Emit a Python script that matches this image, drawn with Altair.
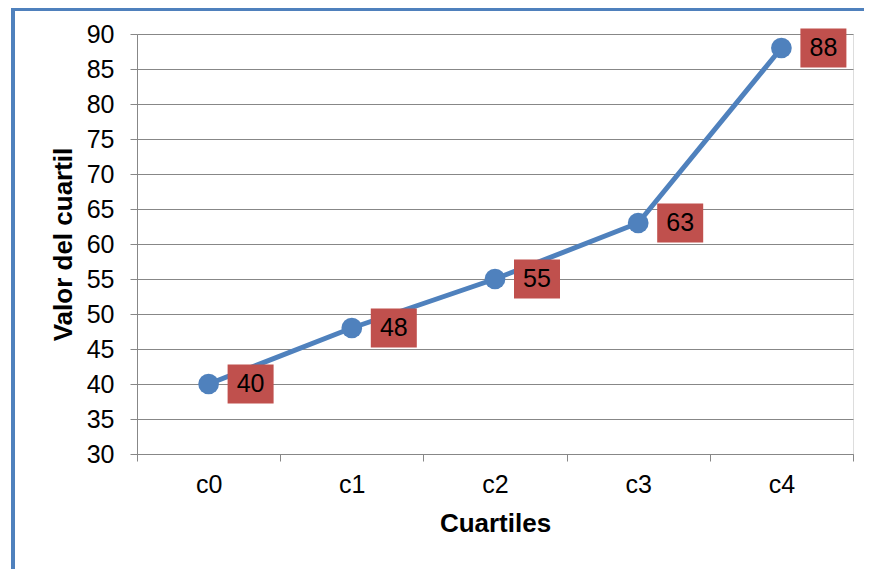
import altair as alt
import pandas as pd

categories = ["c0", "c1", "c2", "c3", "c4"]
values = [40, 48, 55, 63, 88]

df = pd.DataFrame({"cat": categories, "val": values})

FONT = "Liberation Sans"
BLUE = "#4f81bd"
RED = "#c0504d"
GRID = "#878787"

x_enc = alt.X("cat:N", sort=categories,
              scale=alt.Scale(type="band", paddingInner=0, paddingOuter=0),
              axis=alt.Axis(title="Cuartiles", labelAngle=0, tickBand="extent",
                            grid=False, domainColor=GRID, tickColor=GRID,
                            tickSize=7, labelFontSize=25, labelFont=FONT,
                            labelColor="black", labelPadding=11,
                            titleFont=FONT, titleFontSize=26, titleFontWeight="bold",
                            titleColor="black", titlePadding=13))
y_enc = alt.Y("val:Q", scale=alt.Scale(domain=[30, 90], nice=False, zero=False),
              axis=alt.Axis(title="Valor del cuartil", values=list(range(30, 91, 5)),
                            grid=True, gridColor=GRID, domainColor=GRID, tickColor=GRID,
                            tickSize=7, labelFontSize=25, labelFont=FONT,
                            labelColor="black", labelPadding=16,
                            titleFont=FONT, titleFontSize=26, titleFontWeight="bold",
                            titleColor="black", titlePadding=10))

base = alt.Chart(df).encode(x=x_enc, y=y_enc)

line = base.mark_line(color=BLUE, strokeWidth=5)
pts = base.mark_point(filled=True, color=BLUE, size=430, opacity=1, shape="circle")
boxes = base.mark_point(filled=True, color=RED, opacity=1, size=2116, xOffset=42,
                        shape="M-1,-0.848L1,-0.848L1,0.848L-1,0.848Z", strokeWidth=0)
labels = base.mark_text(xOffset=42, fontSize=25, font=FONT, color="black",
                        align="center", baseline="middle").encode(text="val:Q")

border_left = alt.Chart(df).mark_rule(color=BLUE, strokeWidth=3.5).encode(
    x=alt.value(-124), y=alt.value(-25), y2=alt.value(560))
border_top = alt.Chart(df).mark_rule(color=BLUE, strokeWidth=3.5).encode(
    x=alt.value(-125.75), x2=alt.value(760), y=alt.value(-25))

chart = alt.layer(line, pts, boxes, labels, border_left, border_top).properties(
    width=716, height=420,
    autosize=alt.AutoSizeParams(type="none"),
    padding={"left": 129, "top": 26, "right": 11, "bottom": 115},
).configure_view(stroke=None).configure(background="white")

chart.save("out.html", embed_options={"renderer": "svg", "actions": False})
